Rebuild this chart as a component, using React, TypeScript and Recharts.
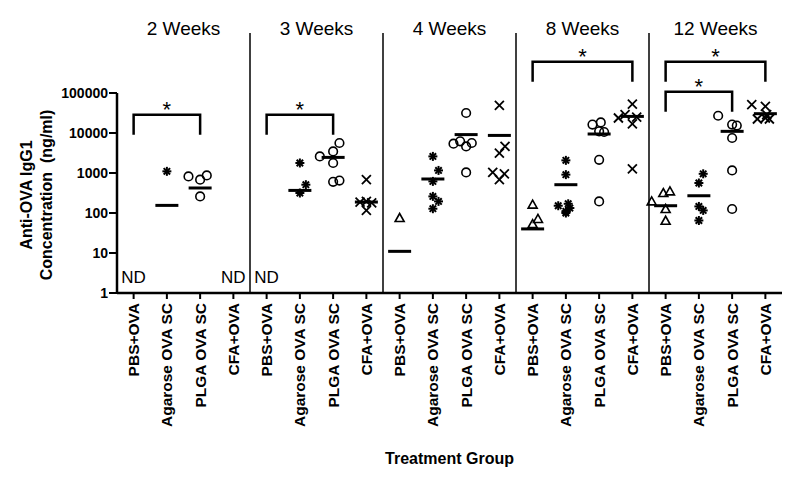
import { ComposedChart, Line, ReferenceLine, Scatter, XAxis, YAxis } from 'recharts'

const FONT = 'Arial, "Liberation Sans", sans-serif'

const weeks = ['2 Weeks', '3 Weeks', '4 Weeks', '8 Weeks', '12 Weeks']
const groups = ['PBS+OVA', 'Agarose OVA SC', 'PLGA OVA SC', 'CFA+OVA']

// [value (ng/ml), horizontal jitter in category units], one list per time point
const pbsOva: [number, number][][] = [
  [],
  [],
  [[75, 0]],
  [[162, 0], [71, 0.16], [53, 0]],
  [[195, -0.42], [316, -0.07], [347, 0.13], [126, 0], [64, 0]],
]
const agaroseOvaSc: [number, number][][] = [
  [[1100, 0]],
  [[1780, 0], [510, 0.18], [316, 0]],
  [[2600, 0], [1160, 0.17], [617, 0], [260, 0], [195, 0.17], [128, 0]],
  [[2070, 0], [910, 0], [152, -0.23], [170, 0.07], [110, 0], [133, 0.12], [100, 0]],
  [[955, 0.13], [562, 0], [146, 0], [116, 0.13], [65, 0]],
]
const plgaOvaSc: [number, number][][] = [
  [[820, -0.35], [680, 0], [870, 0.2], [260, 0]],
  [[5620, 0.19], [3470, 0], [2600, -0.4], [1780, 0], [600, 0], [645, 0.19]],
  [[31600, 0], [5400, -0.38], [6200, -0.18], [4620, 0], [5620, 0.17], [1035, 0]],
  [[16200, -0.2], [18400, 0.05], [11000, 0], [10600, 0.15], [2140, 0], [195, 0]],
  [[27000, -0.42], [16200, 0], [15300, 0.14], [7500, 0], [1160, 0], [126, 0]],
]
const cfaOva: [number, number][][] = [
  [],
  [[680, 0], [188, -0.19], [195, 0], [178, 0.16], [116, 0]],
  [[49000, 0], [4620, 0.17], [3160, 0], [1035, -0.2], [955, 0.15], [680, 0]],
  [[53000, 0], [23700, -0.42], [28800, -0.22], [25100, 0.13], [17000, 0], [1260, 0]],
  [[51000, -0.41], [46200, 0], [22400, -0.24], [23700, 0], [22400, 0.12], [28800, 0.04]],
]

// medians per time point (null = not detected)
const pbsMedian = [null, null, 11, 40, 152]
const agaroseMedian = [155, 367, 708, 510, 270]
const plgaMedian = [422, 2455, 9120, 9440, 11000]
const cfaMedian = [null, 188, 8700, 26000, 30400]

const notDetected = [
  { week: 0, group: 0 },
  { week: 0, group: 3 },
  { week: 1, group: 0 },
]

const brackets = [
  { week: 0, from: 0, to: 2, top: 28700, bottom: 9000 },
  { week: 1, from: 0, to: 2, top: 28700, bottom: 9000 },
  { week: 3, from: 0, to: 3, top: 606000, bottom: 191700 },
  { week: 4, from: 0, to: 3, top: 606000, bottom: 191700 },
  { week: 4, from: 0, to: 2, top: 107800, bottom: 34000 },
]

const yTicks = [1, 10, 100, 1000, 10000, 100000]

const pos = (week: number, group: number) => week * 4 + group + 0.5

const toPoints = (series: [number, number][][], group: number) =>
  series.flatMap((pts, w) => pts.map(([v, dx]) => ({ x: pos(w, group) + dx, y: v })))

const medianPoints = [pbsMedian, agaroseMedian, plgaMedian, cfaMedian].flatMap((m, g) =>
  m.flatMap((v, w) => (v == null ? [] : [{ x: pos(w, g), y: v }]))
)

const ndPoints = notDetected.map((d) => ({ x: pos(d.week, d.group), y: 1 }))

const starPoints = brackets.map((b) => ({
  x: (pos(b.week, b.from) + pos(b.week, b.to)) / 2,
  y: b.top,
}))

const Triangle = ({ cx, cy }: any) => (
  <path
    d={`M${cx},${cy - 4.5}L${cx + 4.5},${cy + 3.5}L${cx - 4.5},${cy + 3.5}Z`}
    fill="none"
    stroke="#000"
    strokeWidth={1.6}
  />
)

const Asterisk = ({ cx, cy }: any) => (
  <g stroke="#000" strokeWidth={2}>
    <line x1={cx} y1={cy - 4.5} x2={cx} y2={cy + 4.5} />
    <line x1={cx - 4.5} y1={cy} x2={cx + 4.5} y2={cy} />
    <line x1={cx - 3.2} y1={cy - 3.2} x2={cx + 3.2} y2={cy + 3.2} />
    <line x1={cx - 3.2} y1={cy + 3.2} x2={cx + 3.2} y2={cy - 3.2} />
  </g>
)

const Circle = ({ cx, cy }: any) => (
  <circle cx={cx} cy={cy} r={4.3} fill="none" stroke="#000" strokeWidth={1.6} />
)

const Cross = ({ cx, cy }: any) => (
  <g stroke="#000" strokeWidth={1.8}>
    <line x1={cx - 4.5} y1={cy - 4.5} x2={cx + 4.5} y2={cy + 4.5} />
    <line x1={cx - 4.5} y1={cy + 4.5} x2={cx + 4.5} y2={cy - 4.5} />
  </g>
)

const MedianBar = ({ cx, cy }: any) => (
  <line x1={cx - 11.5} y1={cy} x2={cx + 11.5} y2={cy} stroke="#000" strokeWidth={3} />
)

const NdLabel = ({ cx, cy }: any) => (
  <text x={cx} y={cy - 10} textAnchor="middle" fontSize={17} fontFamily={FONT} fill="#000">
    ND
  </text>
)

const Star = ({ cx, cy }: any) => (
  <text x={cx} y={cy + 2} textAnchor="middle" fontSize={22} fontFamily={FONT} fill="#000">
    *
  </text>
)

const GroupTick = ({ x, y, payload }: any) => (
  <text
    x={x}
    y={y}
    transform={`rotate(-90 ${x} ${y})`}
    textAnchor="end"
    dy="0.36em"
    fontSize={15.5}
    fontWeight="bold"
    fontFamily={FONT}
    fill="#000"
  >
    {groups[Math.floor(payload.value) % 4]}
  </text>
)

const YLabel = () => {
  const cy = 195
  return (
    <g fontSize={16} fontWeight="bold" fontFamily={FONT} fill="#000" textAnchor="middle">
      <text x={26} y={cy} dy="0.35em" transform={`rotate(-90 26 ${cy})`}>
        Anti-OVA IgG1
      </text>
      <text x={46} y={cy} dy="0.35em" transform={`rotate(-90 46 ${cy})`} xmlSpace="preserve">
        Concentration  (ng/ml)
      </text>
    </g>
  )
}

export default function App() {
  return (
    <div style={{ position: 'absolute', left: 0, top: 0 }}>
      <ComposedChart width={800} height={484} margin={{ top: 33, right: 18, bottom: 0, left: 0 }}>
        <XAxis
          dataKey="x"
          type="number"
          domain={[0, 20]}
          ticks={groups.flatMap((_, g) => weeks.map((__, w) => pos(w, g))).sort((a, b) => a - b)}
          height={191}
          allowDataOverflow
          axisLine={{ stroke: '#000', strokeWidth: 2.5 }}
          tickLine={{ stroke: '#000', strokeWidth: 2 }}
          tickSize={6}
          tickMargin={4}
          tick={<GroupTick />}
          interval={0}
          label={{
            value: 'Treatment Group',
            position: 'insideBottom',
            offset: 20,
            style: { fontSize: 16, fontWeight: 'bold', fontFamily: FONT, fill: '#000' },
          }}
        />
        <YAxis
          dataKey="y"
          scale="log"
          domain={[1, 3162278]}
          allowDataOverflow
          ticks={yTicks}
          width={117}
          axisLine={false}
          tickLine={{ stroke: '#000', strokeWidth: 2 }}
          tickSize={8}
          tickMargin={1}
          tick={{ fontSize: 14, fontWeight: 'bold', fontFamily: FONT, fill: '#000' }}
          interval={0}
          label={<YLabel />}
        />

        <ReferenceLine
          segment={[
            { x: 0, y: 1 },
            { x: 0, y: 100000 },
          ]}
          stroke="#000"
          strokeWidth={2.5}
        />
        {[4, 8, 12, 16].map((x) => (
          <ReferenceLine key={x} x={x} stroke="#000" strokeWidth={1.5} />
        ))}
        {weeks.map((w, i) => (
          <ReferenceLine
            key={w}
            x={i * 4 + 2}
            stroke="none"
            label={{
              value: w,
              position: 'top',
              offset: -2,
              style: { fontSize: 19, fontFamily: FONT, fill: '#000' },
            }}
          />
        ))}

        {brackets.map((b, i) => (
          <Line
            key={i}
            data={[
              { x: pos(b.week, b.from), y: b.bottom },
              { x: pos(b.week, b.from), y: b.top },
              { x: pos(b.week, b.to), y: b.top },
              { x: pos(b.week, b.to), y: b.bottom },
            ]}
            dataKey="y"
            type="linear"
            stroke="#000"
            strokeWidth={2.5}
            dot={false}
            activeDot={false}
            isAnimationActive={false}
          />
        ))}

        <Scatter data={toPoints(pbsOva, 0)} dataKey="y" shape={<Triangle />} isAnimationActive={false} />
        <Scatter data={toPoints(agaroseOvaSc, 1)} dataKey="y" shape={<Asterisk />} isAnimationActive={false} />
        <Scatter data={toPoints(plgaOvaSc, 2)} dataKey="y" shape={<Circle />} isAnimationActive={false} />
        <Scatter data={toPoints(cfaOva, 3)} dataKey="y" shape={<Cross />} isAnimationActive={false} />
        <Scatter data={medianPoints} dataKey="y" shape={<MedianBar />} isAnimationActive={false} />
        <Scatter data={ndPoints} dataKey="y" shape={<NdLabel />} isAnimationActive={false} />
        <Scatter data={starPoints} dataKey="y" shape={<Star />} isAnimationActive={false} />
      </ComposedChart>
    </div>
  )
}
